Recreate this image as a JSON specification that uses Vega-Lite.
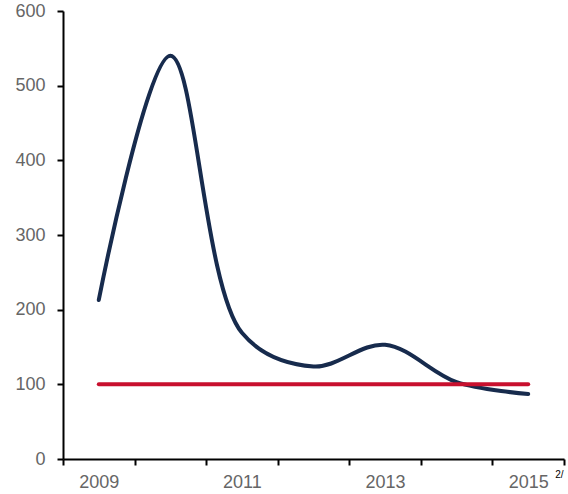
{
  "$schema": "https://vega.github.io/schema/vega-lite/v6.json",
  "width": 501,
  "height": 448,
  "autosize": {"type": "none"},
  "padding": {"left": 63, "top": 11, "right": 4, "bottom": 35},
  "background": "white",
  "config": {
    "view": {"stroke": null},
    "axis": {"grid": false, "title": null}
  },
  "datasets": {
    "series": [
      {"year": "2009", "series": "Indice", "value": 213},
      {"year": "2010", "series": "Indice", "value": 540},
      {"year": "2011", "series": "Indice", "value": 169},
      {"year": "2012", "series": "Indice", "value": 124},
      {"year": "2013", "series": "Indice", "value": 153},
      {"year": "2014", "series": "Indice", "value": 103},
      {"year": "2015", "series": "Indice", "value": 87},
      {"year": "2009", "series": "Base", "value": 100},
      {"year": "2010", "series": "Base", "value": 100},
      {"year": "2011", "series": "Base", "value": 100},
      {"year": "2012", "series": "Base", "value": 100},
      {"year": "2013", "series": "Base", "value": 100},
      {"year": "2014", "series": "Base", "value": 100},
      {"year": "2015", "series": "Base", "value": 100}
    ],
    "note": [{"year": "2015", "value": 0, "note": "2/"}]
  },
  "layer": [
    {
      "data": {"name": "series"},
      "mark": {"type": "line", "interpolate": "catmull-rom", "strokeWidth": 4, "strokeCap": "round", "clip": false},
      "encoding": {
        "x": {
          "field": "year", "type": "ordinal", "sort": null,
          "scale": {"type": "band", "paddingInner": 0, "paddingOuter": 0},
          "axis": {"labelAngle": 0, "tickBand": "extent", "tickSize": 6, "labelPadding": 8, "labelFont": "Liberation Sans", "labelFontSize": 18, "labelColor": "#666666", "domainColor": "#000000", "domainWidth": 2, "tickColor": "#000000", "tickWidth": 2, "labelExpr": "(+datum.value) % 2 === 1 ? datum.value : ''"}
        },
        "y": {
          "field": "value", "type": "quantitative",
          "scale": {"domain": [0, 600], "nice": false},
          "axis": {"values": [0, 100, 200, 300, 400, 500, 600], "tickSize": 6, "labelPadding": 12, "labelFont": "Liberation Sans", "labelFontSize": 18, "labelColor": "#666666", "domainColor": "#000000", "domainWidth": 2, "tickColor": "#000000", "tickWidth": 2}
        },
        "color": {
          "field": "series", "type": "nominal",
          "scale": {"domain": ["Indice", "Base"], "range": ["#172b4d", "#c8102e"]},
          "legend": null
        },
        "order": {"field": "series", "sort": "ascending"}
      }
    },
    {
      "data": {"name": "note"},
      "mark": {"type": "text", "font": "Liberation Sans", "fontSize": 10, "color": "#000000", "align": "left", "baseline": "top", "dx": 27, "dy": 11, "clip": false},
      "encoding": {
        "x": {"field": "year", "type": "ordinal"},
        "y": {"field": "value", "type": "quantitative"},
        "text": {"field": "note"}
      }
    }
  ]
}
